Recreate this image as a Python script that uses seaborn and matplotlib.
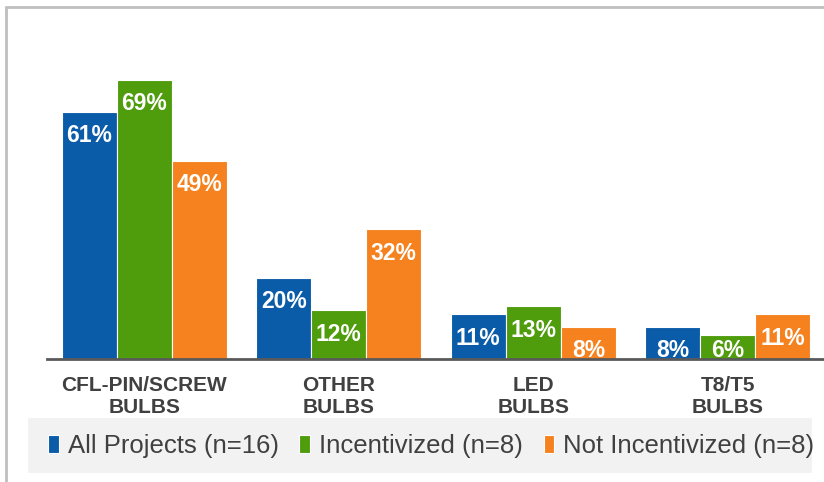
import numpy as np
import pandas as pd
import seaborn as sns
import matplotlib.pyplot as plt
from matplotlib.lines import Line2D
from matplotlib.patches import Rectangle

# Datos
categorias = ['CFL-PIN/SCREW\nBULBS', 'OTHER\nBULBS', 'LED\nBULBS', 'T8/T5\nBULBS']
series = ['All Projects (n=16)', 'Incentivized (n=8)', 'Not Incentivized (n=8)']
todos = [61, 20, 11, 8]
incentivados = [69, 12, 13, 6]
no_incentivados = [49, 32, 8, 11]
colores = ['#0B5CA8', '#4F9C0D', '#F5821F']

df = pd.DataFrame({
    'categoria': categorias * 3,
    'serie': [s for s in series for _ in categorias],
    'valor': todos + incentivados + no_incentivados,
})

sns.set_style('white')
plt.rcParams['font.family'] = ['Liberation Sans', 'DejaVu Sans']

fig = plt.figure(figsize=(8.24, 4.82), dpi=100)
ax = fig.add_axes([47 / 824, 123 / 482, 778 / 824, 324 / 482])

sns.barplot(data=df, x='categoria', y='valor', hue='serie', order=categorias,
            hue_order=series, palette=colores, width=0.85, ax=ax,
            edgecolor='#FFFFFF', linewidth=0.8, saturation=1)

ax.set_xlim(-0.5, 3.5)
ax.set_ylim(0, 80)

# Etiquetas de valores dentro de las barras
for cont, vals in zip(ax.containers, [todos, incentivados, no_incentivados]):
    for barra, v in zip(cont, vals):
        x = barra.get_x() + barra.get_width() / 2
        ax.annotate(f'{v}%', xy=(x, max(v - 5.9, 2.2)), ha='center', va='center',
                    color='white', fontsize=16.5, fontweight='bold')

# Ejes
for lado in ['top', 'right', 'left']:
    ax.spines[lado].set_visible(False)
ax.spines['bottom'].set_color('#595959')
ax.spines['bottom'].set_linewidth(2)
ax.set_yticks([])
ax.set_xlabel('')
ax.set_ylabel('')
ax.set_xticks(np.arange(-0.5, 4, 1), minor=True)
ax.tick_params(axis='x', which='minor', length=6, width=1.5, color='#595959', direction='out')
ax.tick_params(axis='x', which='major', length=0, pad=12)
for t in ax.get_xticklabels():
    t.set_fontweight('bold')
    t.set_fontsize(15)
    t.set_color('#404040')
    t.set_linespacing(1.25)

# Leyenda
handles, labels = ax.get_legend_handles_labels()
ax.get_legend().remove()
fig.add_artist(Rectangle((28 / 824, 9 / 482), 784 / 824, 55 / 482, transform=fig.transFigure,
                         facecolor='#F2F2F2', edgecolor='none', zorder=0))
leg = fig.legend(handles, labels, loc='center left', ncol=3,
                 bbox_to_anchor=(48 / 824, 1 - 446 / 482), frameon=False,
                 fontsize=18.5, handlelength=0.42, handleheight=0.65, handletextpad=0.35,
                 borderaxespad=0, borderpad=0, columnspacing=0.8)
for txt in leg.get_texts():
    txt.set_color('#404040')

# Marco gris
fig.add_artist(Line2D([6 / 824, 6 / 824], [0, 1 - 7 / 482], color='#BFBFBF', lw=2))
fig.add_artist(Line2D([6 / 824, 1], [1 - 7 / 482, 1 - 7 / 482], color='#BFBFBF', lw=2))

plt.savefig('out.png', dpi=100)
